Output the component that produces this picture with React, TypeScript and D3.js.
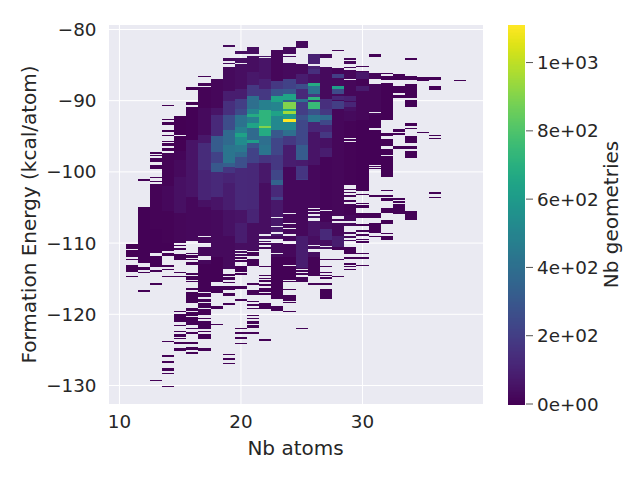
import * as d3 from "d3";
import React from "react";

// x ticks, y ticks, colorbar ticks
const xTicks = [10, 20, 30];
const yTicks = [-80, -90, -100, -110, -120, -130];
const colorTicks = [0, 200, 400, 600, 800, 1000];
const colorTickLabels = ["0e+00", "2e+02", "4e+02", "6e+02", "8e+02", "1e+03"];

// occupied energy spans per atom count: [upper, lower] kcal/atom
const col11 = [[-110.13,-110.87],[-111,-111.9],[-112.2,-112.37],[-113.07,-114.1],[-114.62,-114.76]];
const col12 = [[-101,-101.28],[-104.93,-112.79],[-113.36,-113.73],[-114.06,-114.2],[-116.59,-116.87]];
const col13 = [[-97.2,-97.49],[-97.63,-97.77],[-98.05,-98.61],[-99.04,-99.6],[-100.72,-100.86],[-101.28,-101.42],[-101.7,-111.39],[-111.81,-113.36],[-113.78,-114.06],[-115.6,-115.88],[-129.2,-129.34]];
const col14 = [[-90.6,-90.74],[-92.58,-92.72],[-93,-93.42],[-94.12,-94.4],[-94.82,-94.96],[-95.66,-95.8],[-95.95,-96.37],[-96.65,-97.07],[-97.35,-111.1],[-111.39,-111.81],[-113.07,-113.36],[-113.64,-113.78],[-114.62,-114.76],[-123.75,-123.89],[-125.72,-126],[-126.56,-126.84],[-127.54,-127.96],[-128.24,-128.38],[-130.07,-130.21]];
const col15 = [[-92.15,-94.82],[-94.96,-109.98],[-110.27,-110.41],[-110.69,-110.97],[-111.53,-112.37],[-114.06,-114.2],[-114.62,-114.76],[-119.54,-119.68],[-119.96,-121.08],[-121.5,-121.64],[-122.34,-122.48],[-122.77,-123.19],[-123.33,-123.47],[-123.89,-124.17],[-124.73,-125.15]];
const col16 = [[-88.08,-88.5],[-90.19,-90.61],[-90.89,-109.7],[-111.39,-111.53],[-111.67,-112.09],[-112.23,-112.37],[-112.65,-113.07],[-114.2,-114.48],[-114.62,-115.18],[-115.32,-115.46],[-116.3,-116.59],[-116.87,-118.41],[-119.11,-119.54],[-119.68,-120.24],[-120.38,-121.5],[-121.92,-122.06],[-122.48,-122.77],[-123.89,-124.17],[-124.59,-125.01],[-125.29,-125.57]];
const col17 = [[-86.54,-86.68],[-87.52,-87.94],[-88.08,-109],[-109.14,-109.98],[-110.55,-111.81],[-112.37,-116.87],[-117,-117.57],[-117.85,-118.27],[-118.41,-119.11],[-119.25,-120.1],[-120.52,-120.66],[-120.94,-122.06],[-122.34,-122.48],[-122.77,-123.47],[-124.73,-125.15]];
const col18 = [[-86.96,-115.46],[-116.03,-117.01],[-118.83,-119.25],[-121.36,-121.5]];
const col19 = [[-82.18,-82.46],[-84,-84.43],[-84.71,-84.85],[-85.27,-113.64],[-114.34,-114.62],[-114.76,-115.18],[-115.46,-115.6],[-116.03,-116.59],[-117.01,-117.43],[-118.41,-118.69],[-125.57,-125.71],[-126.14,-126.42],[-126.84,-126.98]];
const col20 = [[-83.02,-83.45],[-84,-84.71],[-84.85,-110.97],[-111.11,-111.39],[-111.53,-111.81],[-111.95,-112.23],[-112.37,-112.65],[-113.21,-114.06],[-114.2,-114.48],[-116.03,-116.45],[-117.85,-118.13],[-121.92,-122.06],[-122.48,-122.77],[-123.19,-123.47],[-124,-124.17]];
const col21 = [[-82.46,-83.45],[-83.73,-111.11],[-111.25,-111.81],[-112.23,-113.21],[-115.6,-115.88],[-116.59,-117.29],[-118.13,-118.27],[-118.55,-118.83],[-119.11,-119.25],[-120.1,-120.24],[-120.52,-120.66],[-120.94,-121.36],[-121.5,-121.92],[-122.48,-122.77]];
const col22 = [[-83.73,-83.87],[-84,-108.72],[-109,-109.42],[-109.7,-109.84],[-110,-110.27],[-110.55,-110.83],[-113.21,-113.36],[-114.48,-114.62],[-114.9,-115.04],[-115.18,-115.46],[-115.74,-116.03],[-116.3,-116.87],[-117,-117.29],[-118.41,-119.25],[-123.47,-123.75]];
const col23 = [[-82.88,-106.33],[-106.48,-107.6],[-107.74,-108.5],[-108.72,-109.42],[-110,-111.39],[-111.53,-117.85],[-118.83,-119.54]];
const col24 = [[-82.46,-83.45],[-83.73,-83.87],[-84.71,-105.78],[-105.92,-107.18],[-107.32,-107.88],[-108.02,-108.72],[-109,-109.7],[-110.13,-113.07],[-113.2,-115.18],[-115.32,-115.46],[-116.44,-116.59],[-117.29,-118.13],[-118.27,-118.41],[-119.54,-119.68]];
const col25 = [[-81.62,-82.6],[-84.85,-113.64],[-113.78,-114.06],[-114.2,-114.48],[-114.76,-115.46],[-121.92,-122.06]];
const col26 = [[-83.45,-84.85],[-85.13,-105.07],[-105.21,-105.5],[-105.64,-105.92],[-106.2,-106.5],[-106.9,-110.27],[-110.41,-110.83],[-111.25,-114.62],[-115.6,-115.88]];
const col27 = [[-83.45,-84],[-85.27,-105.36],[-105.5,-110.41],[-110.55,-110.83],[-112.23,-112.37],[-113.21,-113.36],[-114.06,-114.2],[-114.48,-114.62],[-114.76,-115.04],[-115.6,-115.88],[-116.44,-117.85]];
const col28 = [[-82.88,-83.02],[-85.41,-106.2],[-106.6,-106.9],[-107.18,-110.97],[-112.23,-112.37],[-114.62,-114.76]];
const col29 = [[-84,-84.29],[-84.43,-84.85],[-85.27,-85.41],[-85.69,-86.96],[-87.1,-95.24],[-95.38,-95.66],[-95.8,-101.84],[-102.4,-102.55],[-102.83,-102.97],[-103.25,-103.53],[-103.95,-104.23],[-104.51,-106.9],[-107.18,-107.6],[-108.44,-108.72],[-109,-109.28],[-109.56,-109.7],[-110.55,-111.53],[-111.95,-112.23],[-112.79,-113.07],[-113.21,-113.36],[-113.64,-113.78]];
const col30 = [[-85.13,-85.27],[-85.83,-102.69],[-103.11,-103.25],[-104.37,-104.51],[-104.65,-105.07],[-105.78,-106.5],[-107.32,-107.6],[-108.16,-108.44],[-108.72,-109],[-109.42,-109.56],[-109.7,-109.98],[-111.39,-111.53],[-111.95,-112.23],[-113.07,-113.21]];
const col31 = [[-83.45,-83.87],[-86.11,-86.96],[-87.66,-91.59],[-91.73,-93.84],[-94.12,-99.04],[-99.2,-99.32],[-99.46,-99.6],[-103.25,-103.53],[-105.78,-106.48],[-107.18,-108.58],[-109,-109.14]];
const col32 = [[-86.11,-86.25],[-86.54,-87.1],[-87.52,-92.72],[-94.54,-94.96],[-95.38,-96.37],[-96.79,-97.63],[-97.77,-100.72],[-102.55,-102.69],[-103.25,-103.53],[-103.67,-104.09],[-105.07,-105.78],[-106.75,-107.32],[-108.58,-108.72],[-109,-109.56]];
const col33 = [[-86.25,-87.1],[-87.94,-88.92],[-89.2,-89.63],[-93.98,-94.4],[-94.54,-94.82],[-96.37,-96.79],[-103.67,-103.95],[-104.09,-104.37],[-104.51,-105.92]];
const col34 = [[-84,-84.29],[-86.54,-87.1],[-87.66,-89.63],[-89.91,-90.89],[-93.14,-93.56],[-93.84,-93.98],[-94.96,-95.95],[-96.37,-96.79],[-97.07,-98.05],[-105.5,-106.75]];
const col35 = [[-86.68,-87.24],[-94.4,-94.54]];
const col36 = [[-86.68,-87.1],[-87.94,-88.5],[-94.82,-94.96],[-95.24,-95.38],[-102.83,-103.11],[-103.53,-103.67]];
const col38 = [[-87.1,-87.24]];

// count levels per atom count: [energy from which the count holds going down, count]
const lev11 = [[-80,4]];
const lev12 = [[-80,6]];
const lev13 = [[-80,5],[-101.7,10],[-108,6]];
const lev14 = [[-80,3],[-97.4,10],[-102,25],[-105.5,12],[-110,5]];
const lev15 = [[-80,3],[-97,15],[-98.3,30],[-100.7,45],[-105.8,18],[-110,5]];
const lev16 = [[-80,3],[-90.9,8],[-95.5,60],[-103.5,25],[-110,5]];
const lev17 = [[-80,10],[-91,30],[-94.8,70],[-96,135],[-99.7,110],[-103.9,50],[-105,25],[-113,5]];
const lev18 = [[-80,20],[-91,60],[-92,130],[-95,320],[-97.2,220],[-98.8,300],[-100,130],[-103.5,60],[-105.3,30],[-112,5]];
const lev19 = [[-80,30],[-88.7,90],[-90.1,150],[-92,260],[-94.1,380],[-96.2,430],[-98.8,330],[-99.3,170],[-100.2,110],[-101.6,90],[-105.3,50],[-109,30],[-114,6]];
const lev20 = [[-80,40],[-88.3,90],[-89.7,200],[-91.1,250],[-92,420],[-93.7,480],[-94.6,640],[-95.1,530],[-96.2,450],[-97.2,380],[-97.9,270],[-99.5,130],[-105.3,60],[-107.2,90],[-110,40],[-112,6]];
const lev21 = [[-80,40],[-86,70],[-87.8,180],[-89.4,400],[-91.1,500],[-91.8,680],[-92.3,480],[-93.2,650],[-93.9,380],[-95.5,620],[-96,280],[-96.7,220],[-98.8,125],[-105.2,110],[-107.2,40],[-111,12]];
const lev22 = [[-80,60],[-86.9,100],[-88.3,180],[-89.9,480],[-91.3,720],[-93.55,900],[-93.9,680],[-95,400],[-96.2,430],[-97.6,165],[-98.8,70],[-101.6,40],[-110,20],[-113,5]];
const lev23 = [[-80,20],[-87.3,180],[-88.3,290],[-89.4,650],[-90.2,500],[-91.5,640],[-92.2,520],[-94.1,300],[-95.3,230],[-97.6,180],[-99.7,230],[-101.1,350],[-101.8,130],[-103.5,220],[-104,70],[-109,30],[-112,5]];
const lev24 = [[-80,30],[-86.9,220],[-88.3,300],[-89,650],[-89.9,350],[-90.2,900],[-91.1,650],[-91.4,950],[-91.8,600],[-92.63,1110],[-93.05,520],[-94.1,400],[-95,180],[-96.2,90],[-99.3,25],[-112,8]];
const lev25 = [[-80,30],[-86.2,90],[-87.6,260],[-88.3,130],[-89.7,420],[-90.2,200],[-92,280],[-92.7,240],[-96.2,320],[-98.3,80],[-99.2,170],[-101,200],[-101.2,25],[-109,90],[-113.5,15]];
const lev26 = [[-80,100],[-85.5,150],[-86.2,50],[-87.55,680],[-88,420],[-89,180],[-89.45,720],[-89.9,150],[-90.2,750],[-91.1,280],[-92,430],[-93,120],[-94.4,60],[-99,25],[-106,60],[-109,40],[-112,10]];
const lev27 = [[-80,30],[-89.7,150],[-91.1,180],[-92,380],[-92.7,240],[-93.4,120],[-94.4,180],[-95.3,50],[-96.7,90],[-97.9,15],[-107,40],[-108,130],[-109.5,40],[-111,8]];
const lev28 = [[-80,15],[-86.2,200],[-86.8,30],[-87.9,620],[-88.4,250],[-89,30],[-89.4,120],[-89.9,30],[-90.1,200],[-91.1,20],[-107,30],[-109,90],[-110.5,10]];
const lev29 = [[-80,20],[-89.4,100],[-90,30],[-90.2,120],[-90.9,50],[-91.5,30],[-92.8,12],[-106,25],[-110,6]];
const lev30 = [[-80,5],[-86,70],[-87,10],[-88,80],[-88.6,20],[-92.7,8]];
const lev31 = [[-80,5],[-86,20],[-92,8]];
const levLow = [[-80,5]];

const atomCounts = [11,12,13,14,15,16,17,18,19,20,21,22,23,24,25,26,27,28,29,30,31,32,33,34,35,36,38];
const spanColumns = [col11,col12,col13,col14,col15,col16,col17,col18,col19,col20,col21,col22,col23,col24,col25,col26,col27,col28,col29,col30,col31,col32,col33,col34,col35,col36,col38];
const levelColumns = [lev11,lev12,lev13,lev14,lev15,lev16,lev17,lev18,lev19,lev20,lev21,lev22,lev23,lev24,lev25,lev26,lev27,lev28,lev29,lev30,lev31,levLow,levLow,levLow,levLow,levLow,levLow];

const plot = { left: 109, right: 483, top: 25, bottom: 404 };
const bar = { left: 507.5, right: 525 };
const x = d3.scaleLinear().domain([9.14, 39.92]).range([plot.left, plot.right]);
const y = d3.scaleLinear().domain([-79.37, -132.6]).range([plot.top, plot.bottom]);
const c = d3.scaleLinear().domain([0, 1110]).range([plot.bottom, plot.top]);
const color = (v: number) => d3.interpolateViridis(v / 1110);
const INK = "#262626";
const FONT = "'DejaVu Sans', sans-serif";

type Cell = { key: string; atom: number; hi: number; lo: number; count: number };
const cells: Cell[] = [];
atomCounts.forEach((atom, i) => {
  const levels = levelColumns[i];
  spanColumns[i].forEach(([hi, lo], s) => {
    levels.forEach(([start, count], l) => {
      const end = l + 1 < levels.length ? levels[l + 1][0] : -200;
      const top = Math.min(hi, start);
      const bottom = Math.max(lo, end);
      if (top > bottom) cells.push({ key: `${atom}-${s}-${l}`, atom, hi: top, lo: bottom, count });
    });
  });
});

const barSteps = d3.range(0, 1110, 3);

export default function App() {
  return (
    <svg width={640} height={480} style={{ position: "absolute", left: 0, top: 0 }} fontFamily={FONT}>
      <rect x={0} y={0} width={640} height={480} fill="#fff" />
      <rect x={plot.left} y={plot.top} width={plot.right - plot.left} height={plot.bottom - plot.top} fill="#EAEAF2" />
      {xTicks.map((t) => (
        <line key={t} x1={x(t)} x2={x(t)} y1={plot.top} y2={plot.bottom} stroke="#fff" strokeWidth={1} />
      ))}
      {yTicks.map((t) => (
        <line key={t} x1={plot.left} x2={plot.right} y1={y(t)} y2={y(t)} stroke="#fff" strokeWidth={1} />
      ))}
      <g shapeRendering="crispEdges">
        {cells.map((d) => (
          <rect key={d.key} x={x(d.atom - 0.5)} width={x(d.atom + 0.5) - x(d.atom - 0.5)} y={y(d.hi)} height={Math.max(1, y(d.lo) - y(d.hi))} fill={color(d.count)} />
        ))}
      </g>
      <g fontSize={18.33} fill={INK}>
        {xTicks.map((t) => (
          <text key={t} x={x(t)} y={428} textAnchor="middle">{t}</text>
        ))}
        {yTicks.map((t) => (
          <text key={t} x={96.5} y={y(t) + 6.5} textAnchor="end">{"\u2212" + Math.abs(t)}</text>
        ))}
      </g>
      <text x={295.5} y={455} fontSize={20} fill={INK} textAnchor="middle">Nb atoms</text>
      <text transform="translate(36,214.5) rotate(-90)" fontSize={20} fill={INK} textAnchor="middle">Formation Energy (kcal/atom)</text>
      <g shapeRendering="crispEdges">
        {barSteps.map((v) => (
          <rect key={v} x={bar.left} width={bar.right - bar.left} y={c(v + 3)} height={c(v) - c(v + 3) + 0.5} fill={color(v + 1.5)} />
        ))}
      </g>
      {colorTicks.map((t, i) => (
        <g key={t}>
          <line x1={bar.right + 1} x2={bar.right + 8} y1={c(t)} y2={c(t)} stroke="#555" strokeWidth={1} />
          <text x={537} y={c(t) + 6.5} fontSize={18.33} fill={INK}>{colorTickLabels[i]}</text>
        </g>
      ))}
      <text transform="translate(618,214.5) rotate(-90)" fontSize={20} fill={INK} textAnchor="middle">Nb geometries</text>
    </svg>
  );
}
